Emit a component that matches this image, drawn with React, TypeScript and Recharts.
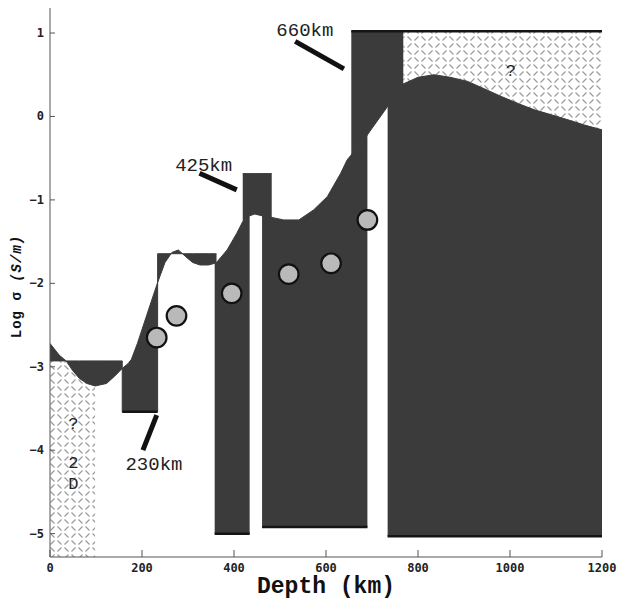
import React from 'react'
import { ComposedChart, Area, Scatter, XAxis, YAxis, ReferenceLine, ReferenceDot } from 'recharts'

// smooth conductivity profile (depth in km, log sigma in S/m)
const curveDepth = [0, 20, 35, 50, 64, 80, 98, 123, 141, 157, 170, 177, 190, 205, 220, 234, 250, 265, 279, 295, 310, 326, 345, 358, 362, 385, 406, 419, 434, 445, 461, 482, 508, 541, 573, 603, 632, 646, 655, 690, 734, 755, 768, 800, 835, 870, 908, 945, 981, 1020, 1053, 1090, 1126, 1160, 1200]
const curveLogSigma = [-2.72, -2.86, -2.93, -3.05, -3.14, -3.2, -3.23, -3.2, -3.11, -3.02, -2.96, -2.91, -2.72, -2.47, -2.22, -1.99, -1.75, -1.63, -1.6, -1.68, -1.75, -1.78, -1.78, -1.76, -1.75, -1.6, -1.4, -1.26, -1.19, -1.17, -1.19, -1.21, -1.24, -1.24, -1.12, -0.96, -0.68, -0.52, -0.46, -0.22, 0.12, 0.32, 0.39, 0.47, 0.5, 0.47, 0.42, 0.33, 0.24, 0.15, 0.08, 0.02, -0.04, -0.1, -0.16]

// layered (step) model in the upper part
const stepEdges = [0, 157, 234, 362]
const stepLevels = [-2.93, -3.54, -1.645]

// dark columns below the curve
const columnStart = [358, 461, 734]
const columnEnd = [434, 690, 1200]
const columnFloor = [-5.0, -4.92, -5.03]

// boxes above the curve (425 km and 660 km)
const capStart = [419, 655]
const capEnd = [482, 768]
const capTop = [-0.685, 1.02]

// 2D / unknown regions
const hatchLeftStart = 0
const hatchLeftEnd = 98

// lab measurements
const labDepth = [232, 275, 395, 519, 611, 690]
const labLogSigma = [-2.65, -2.39, -2.12, -1.89, -1.76, -1.24]

// discontinuity labels and their pointers
const markerLabels = ['660km', '425km', '230km']
const markerLabelDepth = [554, 334, 226]
const markerLabelLogSigma = [0.97, -0.65, -4.24]
const pointerFromDepth = [533, 325, 232]
const pointerFromLogSigma = [0.9, -0.68, -3.58]
const pointerToDepth = [639, 406, 202]
const pointerToLogSigma = [0.57, -0.88, -4.0]

const hatchLabels = ['?', '?', '2', 'D']
const hatchLabelDepth = [1002, 51, 51, 51]
const hatchLabelLogSigma = [0.49, -3.74, -4.21, -4.47]

const xTicks = [0, 200, 400, 600, 800, 1000, 1200]
const yTicks = [-5, -4, -3, -2, -1, 0, 1]

const Y_DOMAIN: [number, number] = [-5.28, 1.3]
const DARK = '#3b3b3b'
const AXIS = '#555'
const MONO = "'Liberation Mono', monospace"

const curveBetween = (from: number, to: number) =>
  curveDepth
    .map((d, i) => ({ d, c: curveLogSigma[i] }))
    .filter((p) => p.d >= from && p.d <= to)

// fill between step model and smooth curve
const stepData = stepLevels.flatMap((lvl, k) =>
  curveBetween(stepEdges[k], stepEdges[k + 1]).map((p) => ({ depth: p.d, band: [lvl, p.c] }))
)
const columnData = columnStart.map((s, i) =>
  curveBetween(s, columnEnd[i]).map((p) => ({ depth: p.d, band: [columnFloor[i], p.c] }))
)
const capData = capStart.map((s, i) =>
  curveBetween(s, capEnd[i]).map((p) => ({ depth: p.d, band: [p.c, capTop[i]] }))
)
const hatchLeftData = curveBetween(hatchLeftStart, hatchLeftEnd).map((p) => ({
  depth: p.d,
  band: [Y_DOMAIN[0], Math.min(stepLevels[0], p.c)],
}))
const hatchRightData = curveBetween(capEnd[1], 1200).map((p) => ({ depth: p.d, band: [p.c, capTop[1]] }))
const labData = labDepth.map((d, i) => ({ depth: d, logSigma: labLogSigma[i] }))

// thick lower edges of the boxes
const edgeFrom = [...columnStart, stepEdges[1], capStart[1]]
const edgeTo = [...columnEnd, stepEdges[2], 1200]
const edgeLevel = [...columnFloor, stepLevels[1], capTop[1]]

const tickFont = { fontFamily: "'DejaVu Sans Mono', monospace", fontSize: 12, fontWeight: 700, fill: '#222' }

function YTick({ x, y, payload }: any) {
  const v = payload.value as number
  return (
    <g>
      <line x1={x + 6} x2={x + 11} y1={y} y2={y} stroke={AXIS} />
      <text x={x} y={y} dy={4} textAnchor="end" {...tickFont}>
        {v < 0 ? `−${-v}` : v}
      </text>
    </g>
  )
}

function XTick({ x, y, payload }: any) {
  return (
    <g>
      <line x1={x} x2={x} y1={y - 5} y2={y - 12} stroke={AXIS} />
      <text x={x} y={y} dy={10} textAnchor="middle" {...tickFont}>
        {payload.value}
      </text>
    </g>
  )
}

const xLabel = (props: any) => {
  const vb = props.viewBox
  return (
    <text x={vb.x + vb.width / 2} y={vb.y + 36} textAnchor="middle" fontFamily={MONO} fontWeight={700} fontSize={23} fill="#111">
      Depth (km)
    </text>
  )
}

const yLabel = (props: any) => {
  const vb = props.viewBox
  const cx = vb.x + 21
  const cy = vb.y + vb.height / 2 + 4
  return (
    <text x={cx} y={cy} transform={`rotate(-90 ${cx} ${cy})`} textAnchor="middle" fontFamily={MONO} fontWeight={700} fontSize={14} letterSpacing={1} fill="#111">
      Log σ <tspan fontStyle="italic">(S/m)</tspan>
    </text>
  )
}

const textShape = (t: string, size: number) => (p: any) => (
  <text x={p.cx} y={p.cy} textAnchor="middle" fontFamily={MONO} fontSize={size} fill="#222">
    {t}
  </text>
)

export default function App() {
  return (
    <div style={{ position: 'fixed', left: 0, top: 0, width: 618, height: 602, background: '#fff' }}>
      <ComposedChart width={618} height={602} margin={{ top: 8, right: 16, bottom: 0, left: 0 }}>
        <defs>
          <pattern id="plate" width={14} height={14} patternUnits="userSpaceOnUse">
            <rect width={14} height={14} fill="#fff" />
            <line x1={1.5} y1={5.5} x2={5.5} y2={1.5} stroke="#999" strokeWidth={1.1} />
            <line x1={8.5} y1={1.5} x2={12.5} y2={5.5} stroke="#999" strokeWidth={1.1} />
            <line x1={1.5} y1={8.5} x2={5.5} y2={12.5} stroke="#999" strokeWidth={1.1} />
            <line x1={8.5} y1={12.5} x2={12.5} y2={8.5} stroke="#999" strokeWidth={1.1} />
          </pattern>
        </defs>
        <XAxis
          dataKey="depth"
          type="number"
          domain={[0, 1200]}
          ticks={xTicks}
          interval={0}
          allowDataOverflow
          height={45}
          tickLine={false}
          tickSize={0}
          tickMargin={5}
          tick={XTick}
          axisLine={{ stroke: AXIS }}
          label={xLabel}
        />
        <YAxis
          type="number"
          domain={Y_DOMAIN}
          ticks={yTicks}
          interval={0}
          allowDataOverflow
          width={50}
          tickLine={false}
          tickSize={0}
          tickMargin={6}
          tick={YTick}
          axisLine={{ stroke: AXIS }}
          label={yLabel}
        />
        <XAxis xAxisId="top" orientation="top" type="number" domain={[0, 1200]} height={0} tick={false} tickLine={false} axisLine={{ stroke: '#999' }} />
        <YAxis yAxisId="right" orientation="right" type="number" domain={[0, 1]} width={0} tick={false} tickLine={false} axisLine={{ stroke: '#666' }} />

        <Area data={hatchLeftData} dataKey="band" type="linear" fill="url(#plate)" fillOpacity={1} stroke="none" isAnimationActive={false} />
        <Area data={hatchRightData} dataKey="band" type="linear" fill="url(#plate)" fillOpacity={1} stroke="none" isAnimationActive={false} />
        <Area data={stepData} dataKey="band" type="linear" fill={DARK} fillOpacity={1} stroke={DARK} strokeWidth={1} isAnimationActive={false} />
        {columnData.map((d, i) => (
          <Area key={`col-${i}`} data={d} dataKey="band" type="linear" fill={DARK} fillOpacity={1} stroke={DARK} strokeWidth={1} isAnimationActive={false} />
        ))}
        {capData.map((d, i) => (
          <Area key={`cap-${i}`} data={d} dataKey="band" type="linear" fill={DARK} fillOpacity={1} stroke={DARK} strokeWidth={1} isAnimationActive={false} />
        ))}

        {edgeFrom.map((x0, i) => (
          <ReferenceLine
            key={`edge-${i}`}
            segment={[{ x: x0, y: edgeLevel[i] }, { x: edgeTo[i], y: edgeLevel[i] }]}
            stroke="#151515"
            strokeWidth={2.5}
          />
        ))}
        {markerLabels.map((t, i) => (
          <ReferenceLine
            key={`ptr-${i}`}
            segment={[
              { x: pointerFromDepth[i], y: pointerFromLogSigma[i] },
              { x: pointerToDepth[i], y: pointerToLogSigma[i] },
            ]}
            stroke="#111"
            strokeWidth={5}
          />
        ))}

        <Scatter
          data={labData}
          dataKey="logSigma"
          isAnimationActive={false}
          shape={(p: any) => <circle cx={p.cx} cy={p.cy} r={9.8} fill="#b9b9b9" stroke="#111" strokeWidth={2.2} />}
        />

        {markerLabels.map((t, i) => (
          <ReferenceDot key={`lbl-${i}`} x={markerLabelDepth[i]} y={markerLabelLogSigma[i]} r={0} shape={textShape(t, 19)} />
        ))}
        {hatchLabels.map((t, i) => (
          <ReferenceDot key={`hl-${i}`} x={hatchLabelDepth[i]} y={hatchLabelLogSigma[i]} r={0} shape={textShape(t, 17)} />
        ))}
      </ComposedChart>
    </div>
  )
}
